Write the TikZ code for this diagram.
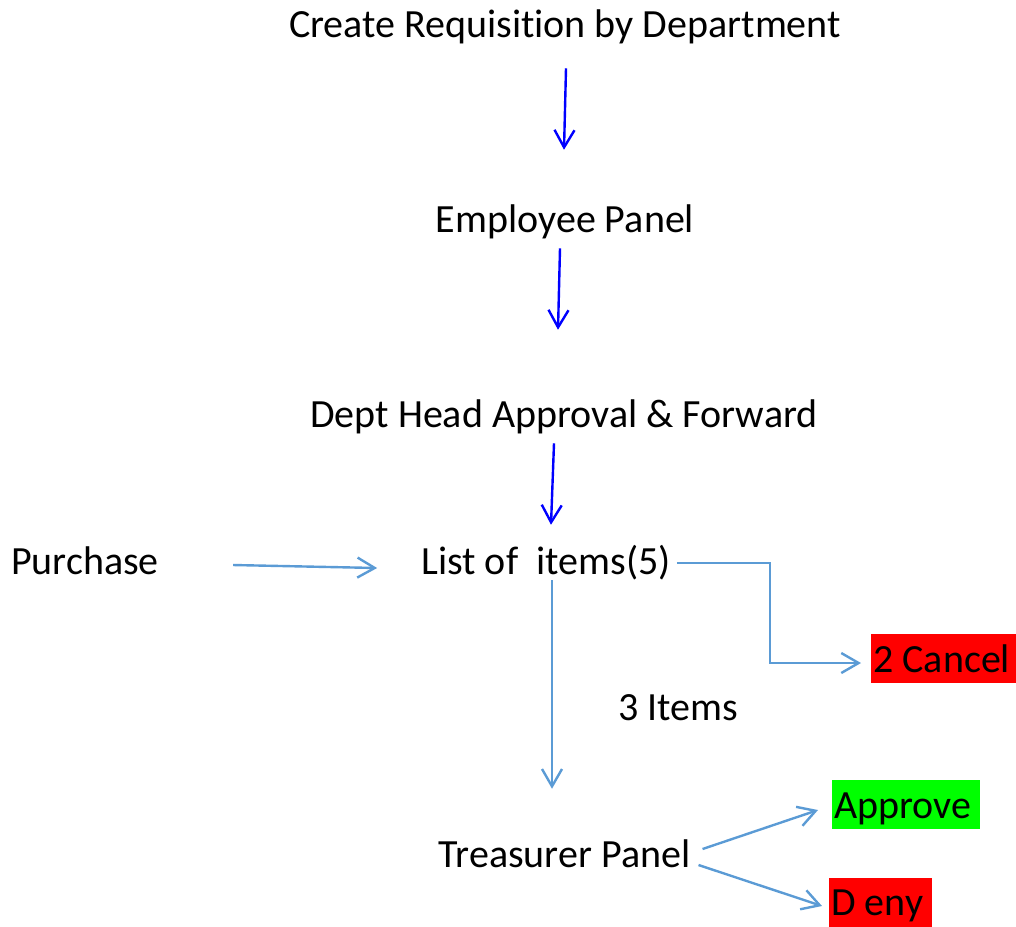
\documentclass[tikz,border=0pt]{standalone}
\usepackage{fontspec}
\setmainfont{Carlito}[Ligatures=NoCommon]
\usetikzlibrary{arrows.meta,calc}
\definecolor{darkarrow}{RGB}{0,0,255}
\definecolor{lightarrow}{RGB}{91,155,213}
\definecolor{redbox}{RGB}{255,0,0}
\definecolor{greenbox}{RGB}{0,255,0}
\tikzset{
  lbl/.style={font=\fontsize{30}{36}\selectfont, inner sep=0pt, text height=19.5pt, text depth=7.5pt, anchor=base},
  hl/.style={font=\fontsize{30}{36}\selectfont, inner ysep=0pt, inner xsep=1.5pt, text height=28.5pt, text depth=8.25pt, anchor=west},
  darkflow/.style={draw=darkarrow, line width=1.8pt, -{Straight Barb[length=13pt,width=15pt]}},
  lightflow/.style={draw=lightarrow, line width=1.8pt, -{Straight Barb[length=13pt,width=15pt]}},
}
\begin{document}
\begin{tikzpicture}[x=0.75pt,y=-0.75pt]
\useasboundingbox (0,0) rectangle (1016,926);
\node[lbl] (create) at (565,37) {Create Requisition by Department};
\node[lbl] (employee) at (565,232) {Employee Panel};
\node[lbl] (dept) at (564,427) {Dept Head Approval \& Forward};
\node[lbl] (purchase) at (85,574) {Purchase};
\node[lbl] (list) at (546,574) {List of\ \ items(5)};
\node[lbl] (three) at (678,720) {3 Items};
\node[lbl] (treas) at (564.5,867) {Treasurer Panel};
\node[hl, fill=redbox] (cancel) at (871,658.5) {\makebox[105.75pt][l]{2 Cancel}};
\node[hl, fill=greenbox] (approve) at (832,804.5) {\makebox[108pt][l]{Approve}};
\node[hl, fill=redbox] (deny) at (829,902) {\makebox[74.25pt][l]{D eny}};

\draw[darkflow] ($(create.south)+(1,21)$) -- ($(employee.north)+(-1,-56)$);
\draw[darkflow] ($(employee.south)+(-5,6)$) -- ($(dept.north)+(-6,-71)$);
\draw[darkflow] ($(dept.south)+(-10,6)$) -- ($(list.north)+(5,-23)$);
\draw[lightflow] ($(purchase.east)+(74,-1)$) -- ($(list.west)+(-44,2)$);
\draw[lightflow] ($(list.east)+(6,-3)$) -- ++(93,0) |- ($(cancel.west)+(-10,4.5)$);
\draw[lightflow] ($(list.south)+(6,-4)$) -- ($(treas.north)+(-12.5,-52)$);
\draw[lightflow] ($(treas.east)+(12,-10)$) -- ($(approve.west)+(-14,5.5)$);
\draw[lightflow] ($(treas.east)+(8,6)$) -- ($(deny.west)+(-7,4)$);
\end{tikzpicture}
\end{document}
